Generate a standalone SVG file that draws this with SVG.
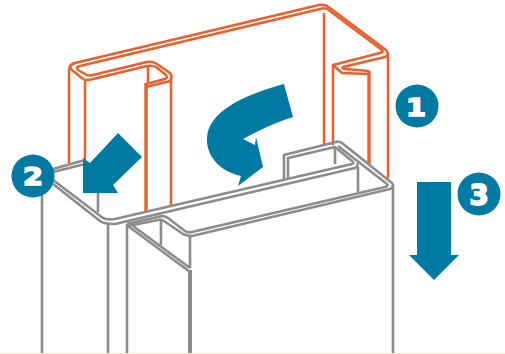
<svg xmlns="http://www.w3.org/2000/svg" width="505" height="354" viewBox="0 0 505 354">
<style>
.o{fill:none;stroke:#e8602c;stroke-width:2.5;stroke-linejoin:round}
.ot{fill:none;stroke:#e8602c;stroke-width:3.4}
.g{fill:none;stroke:#8c8c8e;stroke-width:2.6;stroke-linejoin:round}
.gt{fill:none;stroke:#8c8c8e;stroke-width:4}
.b{fill:#0079a3}
.n{fill:#fff;font-family:"DejaVu Sans",sans-serif;font-weight:700;font-size:25px;text-anchor:middle;stroke:#fff;stroke-width:1.6}
</style>
<rect width="505" height="354" fill="#fff"/>
<rect y="353" width="505" height="1" fill="#fbe9e0"/>
<g id="connectors">
<g id="orange-profile">
<path class="o" d="M69 163V70Q69 65 75 63L319 5Q325 4 330 8L386 50Q390 55 385 57L343 67Q341 68 345 69L369 71"/>
<path class="o" d="M388 53V178"/>
<path class="o" d="M80 66L320 9Q326 7 330 11L382 50Q384 52 380 53L333 65L342 73L369 74"/>
<path class="o" d="M324 13V145M333 65V145"/>
<path class="ot" d="M369 71V165"/>
<path class="o" d="M80 66Q75 67 78 70L87 75Q89 76 93 75L147 62Q153 61 157 64L170 73Q173 77 170 81L146 87"/>
<path class="o" d="M75 63Q67 65 72 70L83 79Q87 81 93 79L147 66Q153 65 156 67L166 75Q168 78 165 79L146 84"/>
<path class="o" d="M85 80V160M148 66V82M171 77V205"/>
<path class="ot" d="M146 83V212"/>
</g>
<g id="gray-profile">
<path class="g" d="M53 169L85 160M53 172L85 164"/>
<path class="g" d="M42 195V353M98 190V212M108 224V353M127 224V353"/>
<path class="g" d="M53 180L103 218Q107 220 115 219L352 164Q355 163 352 161L335 147L288 158V179"/>
<path class="g" d="M53 184L100 221Q104 224 115 224L355 168Q359 166 357 163"/>
<path class="g" d="M127 224L162 216Q165 216 168 218L185 231Q188 233 192 232L385 187Q389 186 387 184L338 146"/>
<path class="g" d="M128 226L158 220Q161 219 164 221L183 234Q187 236 192 236L390 189Q395 187 392 183L342 143Q339 141 336 142L284 155V180"/>
<path class="g" d="M335 147V164M358 167V192M393 185V353"/>
<path class="g" d="M128 226L190 272M133 226L190 268"/>
<path class="g" d="M161 220V245M190 236V268"/>
<path class="gt" d="M190 270V353"/>
</g>
</g>
<g id="arrow-curved"><path class="b" d="M284 84L293 117C277 122 259 130 243 139L255 145L256 137L263 167L238 186L241 176C218 171 206 154 207 138C208 113 240 96 284 84Z"/></g>
<g id="arrow-2"><polygon class="b" points="83,193 83,158 90,163 118,133 142,157 113,185 118,193"/></g>
<g id="arrow-3"><polygon class="b" points="417,182 451,182 451,255 459,255 434,280 409,255 417,255"/></g>
<g id="badge-1"><circle class="b" cx="417" cy="106" r="21.5"/><text class="n" transform="translate(416 116) scale(1.15 1)">1</text></g>
<g id="badge-2"><circle class="b" cx="33" cy="176" r="21.5"/><text class="n" transform="translate(33 185) scale(1.15 1)">2</text></g>
<g id="badge-3"><circle class="b" cx="479" cy="194" r="21.5"/><text class="n" transform="translate(479 204.5) scale(1.1 1.1)">3</text></g>
</svg>
